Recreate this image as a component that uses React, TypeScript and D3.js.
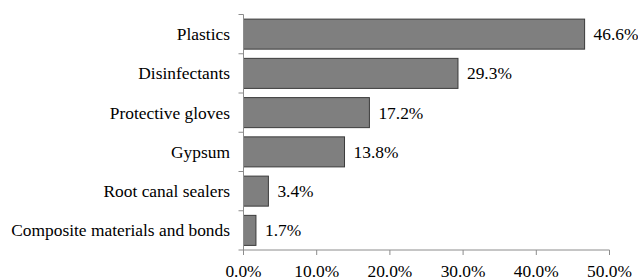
import React, { useEffect, useRef } from "react";
import * as d3 from "d3";

const categories = [
  "Plastics",
  "Disinfectants",
  "Protective gloves",
  "Gypsum",
  "Root canal sealers",
  "Composite materials and bonds",
];
const values = [46.6, 29.3, 17.2, 13.8, 3.4, 1.7];
const xTicks = [0, 10, 20, 30, 40, 50];

const W = 638;
const H = 280;
const margin = { left: 243.5, right: 28.5, top: 14.5, bottom: 30 };

export default function App() {
  const ref = useRef<SVGSVGElement>(null);

  useEffect(() => {
    const svg = d3.select(ref.current);
    svg.selectAll("*").remove();
    const x = d3.scaleLinear().domain([0, 50]).range([margin.left, W - margin.right]);
    const y = d3
      .scaleBand<string>()
      .domain(categories)
      .range([margin.top, H - margin.bottom])
      .paddingInner(0.235)
      .paddingOuter(0.1175);
    const step = y.step();
    const bandEdges = d3.range(categories.length + 1).map((i) => margin.top + i * step);
    const axisColor = "#8c8c8c";
    const fmt = (v: number) => v.toFixed(1) + "%";
    const y0 = H - margin.bottom;
    const FONT = "Liberation Serif";
    const SIZE = "17.4px";

    svg.append("rect").attr("width", W).attr("height", H).attr("fill", "#fff");

    const rows = svg.selectAll("g.row").data(categories).enter().append("g");
    rows
      .append("rect")
      .attr("x", x(0))
      .attr("y", (c) => y(c)!)
      .attr("width", (_, i) => x(values[i]) - x(0))
      .attr("height", y.bandwidth())
      .attr("fill", "#7f7f7f")
      .attr("stroke", "#3a3a3a")
      .attr("stroke-width", 1);
    rows
      .append("text")
      .attr("x", (_, i) => x(values[i]) + 9)
      .attr("y", (c) => y(c)! + y.bandwidth() / 2 + 6)
      .style("font-family", FONT)
      .style("font-size", SIZE)
      .text((_, i) => fmt(values[i]));
    rows
      .append("text")
      .attr("x", 230)
      .attr("y", (c) => y(c)! + y.bandwidth() / 2 + 6)
      .attr("text-anchor", "end")
      .style("font-family", FONT)
      .style("font-size", SIZE)
      .text((c) => c);

    svg
      .append("line")
      .attr("x1", x(0)).attr("x2", x(0)).attr("y1", margin.top).attr("y2", y0)
      .attr("stroke", axisColor);
    svg
      .selectAll("line.yt")
      .data(bandEdges)
      .enter()
      .append("line")
      .attr("x1", x(0) - 5).attr("x2", x(0))
      .attr("y1", (d) => d).attr("y2", (d) => d)
      .attr("stroke", axisColor);
    svg
      .append("line")
      .attr("x1", x(0)).attr("x2", x(50)).attr("y1", y0).attr("y2", y0)
      .attr("stroke", axisColor);
    const xt = svg.selectAll("g.xt").data(xTicks).enter().append("g");
    xt.append("line")
      .attr("x1", (t) => x(t)).attr("x2", (t) => x(t))
      .attr("y1", y0).attr("y2", y0 + 5)
      .attr("stroke", axisColor);
    xt.append("text")
      .attr("x", (t) => x(t))
      .attr("y", y0 + 27)
      .attr("text-anchor", "middle")
      .style("font-family", FONT)
      .style("font-size", SIZE)
      .text((t) => fmt(t));
  }, []);

  return (
    <svg
      ref={ref}
      width={W}
      height={H}
      style={{ position: "absolute", left: 0, top: 0, display: "block" }}
    />
  );
}
